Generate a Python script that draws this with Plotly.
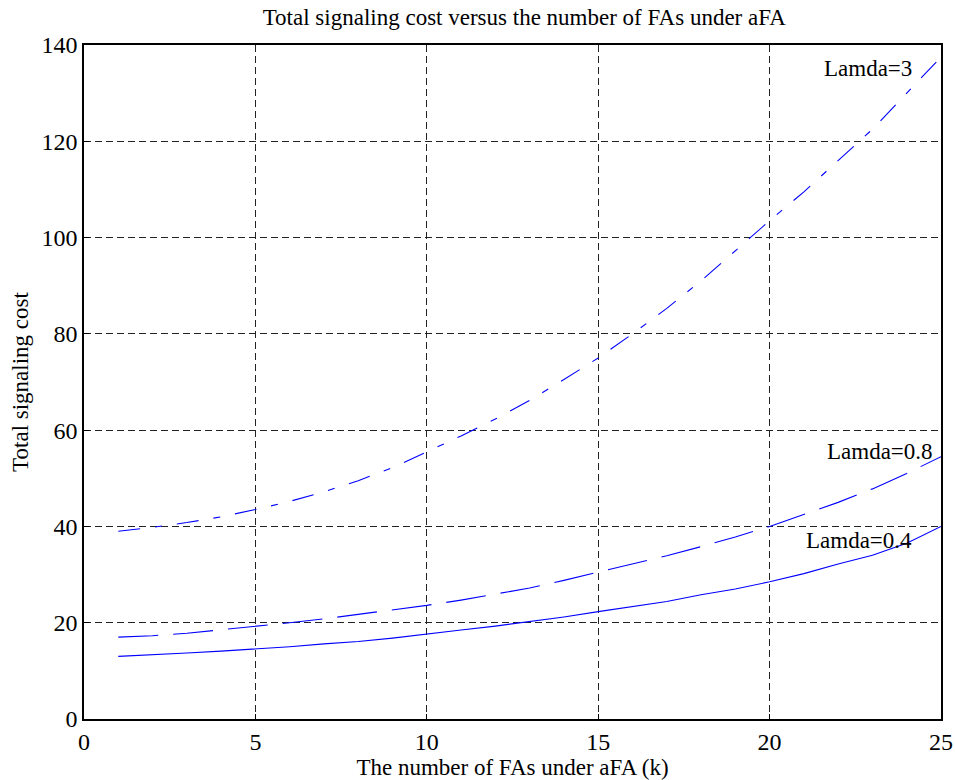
import plotly.graph_objects as go

k = list(range(1, 26))
lamda_04 = [13.0, 13.3, 13.7, 14.1, 14.5, 15.0, 15.6, 16.1, 16.8, 17.7, 18.5, 19.3, 20.2,
            21.2, 22.3, 23.4, 24.4, 25.8, 27.0, 28.5, 30.2, 32.2, 34.0, 36.5, 40.0]
lamda_08 = [17.0, 17.3, 17.8, 18.5, 19.2, 20.0, 20.8, 21.7, 22.6, 23.6, 24.7, 25.9, 27.2,
            28.8, 30.5, 32.2, 33.9, 35.8, 37.8, 40.0, 42.5, 45.0, 47.8, 51.0, 54.5]
lamda_3 = [39.0, 39.8, 40.8, 42.0, 43.5, 45.2, 47.2, 49.5, 52.2, 55.5, 58.8, 62.3, 66.2,
           70.5, 75.0, 80.0, 85.3, 91.0, 97.3, 103.5, 109.5, 116.0, 122.5, 130.0, 137.5]

labels = ["Lamda=3", "Lamda=0.8", "Lamda=0.4"]
label_x = [22.87, 23.22, 22.61]
label_y = [135.2, 55.5, 37.0]

font = "Liberation Serif, Times New Roman, serif"
fig = go.Figure()
fig.add_trace(go.Scatter(x=k, y=lamda_04, mode="lines",
                         line=dict(color="#0000ff", width=1.1, dash="solid")))
fig.add_trace(go.Scatter(x=k, y=lamda_08, mode="lines",
                         line=dict(color="#0000ff", width=1.1, dash="40px,15px")))
fig.add_trace(go.Scatter(x=k, y=lamda_3, mode="lines",
                         line=dict(color="#0000ff", width=1.1, dash="22px,15px,7px,15px")))

for t, xx, yy in zip(labels, label_x, label_y):
    fig.add_annotation(x=xx, y=yy, text=t, showarrow=False,
                       font=dict(family=font, size=23, color="black"))

axis_common = dict(showgrid=True, gridcolor="#222222", griddash="7px,4px", gridwidth=1,
                   showline=True, linecolor="black", linewidth=1.5, mirror=True,
                   ticks="inside", ticklen=5, tickcolor="black", zeroline=False,
                   automargin=False, ticklabeloverflow="allow",
                   tickfont=dict(family=font, size=24, color="black"))

fig.update_layout(
    width=955, height=780,
    margin=dict(l=84, r=14, t=45, b=61),
    paper_bgcolor="white", plot_bgcolor="white",
    showlegend=False,
    title=dict(text="Total signaling cost versus the number of FAs under aFA",
               x=0.549, xanchor="center", y=0.978, yanchor="middle",
               font=dict(family=font, size=23, color="black")),
    xaxis=dict(range=[0, 25], tickvals=[0, 5, 10, 15, 20, 25],
               title=dict(text="The number of FAs under aFA (k)", standoff=2,
                          font=dict(family=font, size=23, color="black")),
               **axis_common),
    yaxis=dict(range=[0, 140], tickvals=list(range(0, 141, 20)),
               title=dict(text="Total signaling cost", standoff=6,
                          font=dict(family=font, size=23, color="black")),
               **axis_common),
)

fig.write_html("out.html")
